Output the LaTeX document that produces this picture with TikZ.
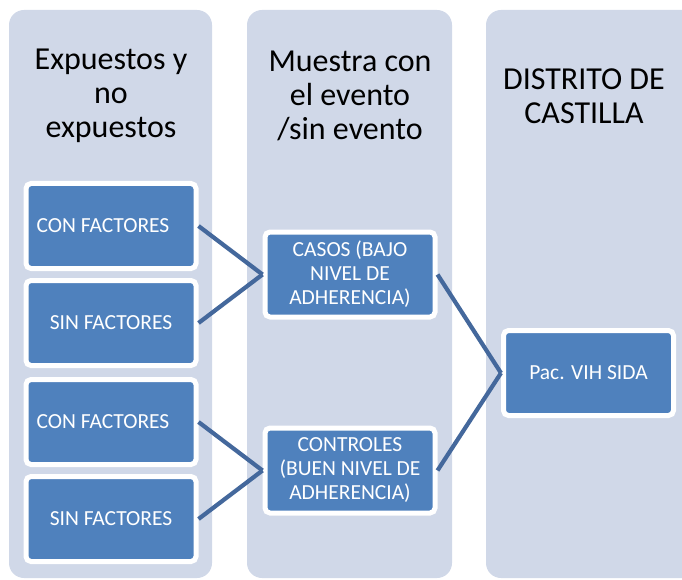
\documentclass[tikz,border=0pt]{standalone}
\usepackage{fontspec}
\setmainfont{Carlito}
\usetikzlibrary{positioning}
\definecolor{colbg}{HTML}{D0D8E8}
\definecolor{boxblue}{HTML}{4F81BD}
\definecolor{linkblue}{HTML}{44689C}
\begin{document}
\begin{tikzpicture}[
    x=1pt, y=-1pt,
    column/.style={fill=colbg, rounded corners=15pt},
    heading/.style={align=center, text=black, font=\fontsize{32}{34}\selectfont},
    item/.style={rectangle, rounded corners=5pt, draw=white, line width=5pt, fill=boxblue,
        minimum width=170pt, minimum height=85pt, outer sep=2.5pt, inner sep=2pt,
        align=center, text=white, font=\fontsize{21.5}{24}\selectfont},
    link/.style={draw=linkblue, line width=4.2pt}
]
    \useasboundingbox (0,0) rectangle (682,580);

    % Background columns
    \fill[column] (9,10) rectangle (212,578);
    \fill[column] (247,10) rectangle (452,578);
    \fill[column] (486,10) rectangle (697,578);

    % Headings
    \node[heading] (head1) at (111,96) {Expuestos y\\no\\expuestos};
    \node[heading] (head2) at (350,96) {Muestra con\\el evento\\/sin evento};
    \node[heading] (head3) at (584,96) {DISTRITO DE\\CASTILLA};

    % Exposure boxes
    \node[item] (con1) at (111,226) {CON FACTORES\hspace*{16pt}};
    \node[item, below=7pt of con1] (sin1) {SIN FACTORES};
    \node[item, below=9pt of sin1] (con2) {CON FACTORES\hspace*{16pt}};
    \node[item, below=7pt of con2] (sin2) {SIN FACTORES};

    % Event boxes
    \node[item] (casos) at (350,274.5) {CASOS (BAJO\\NIVEL DE\\ADHERENCIA)};
    \node[item] (controles) at (350,470.5) {CONTROLES\\(BUEN NIVEL DE\\ADHERENCIA)};

    % Population box
    \node[item] (pac) at (588.5,373) {Pac. VIH SIDA};

    % Links
    \draw[link] (con1.east) -- (casos.west);
    \draw[link] (sin1.east) -- (casos.west);
    \draw[link] (con2.east) -- (controles.west);
    \draw[link] (sin2.east) -- (controles.west);
    \draw[link] (casos.east) -- (pac.west);
    \draw[link] (controles.east) -- (pac.west);
\end{tikzpicture}
\end{document}
